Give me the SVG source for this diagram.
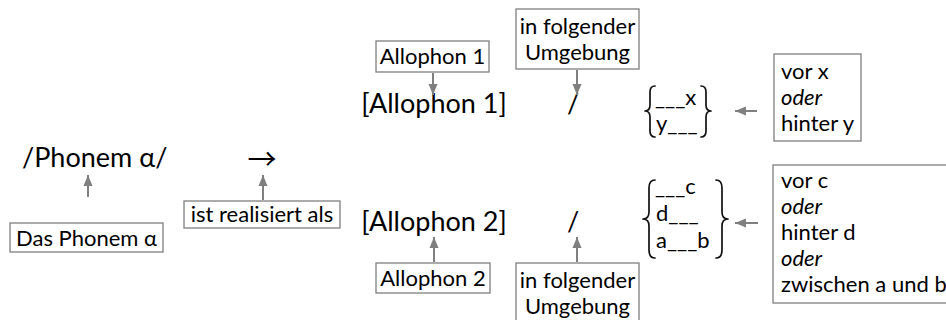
<svg xmlns="http://www.w3.org/2000/svg" width="946" height="320" viewBox="0 0 946 320">
  <defs>
    <marker id="head" markerUnits="userSpaceOnUse" markerWidth="12" markerHeight="12" viewBox="0 0 12 12" refX="11" refY="6" orient="auto">
      <path d="M0,1.5 L11,6 L0,10.5 Z" fill="#7f7f7f"/>
    </marker>
    <style>
      text { font-family: Lato, "Liberation Sans", sans-serif; fill: #000; }
      .big { font-size: 27px; }
      .lbl { font-size: 22px; }
      .mid { text-anchor: middle; }
      .it { font-style: italic; }
      .box { fill: #fff; stroke: #7f7f7f; stroke-width: 1.3; }
      .brace { fill: none; stroke: #111; stroke-width: 1.7; stroke-linecap: round; stroke-linejoin: round; }
      .conn line { stroke: #7f7f7f; stroke-width: 2; marker-end: url(#head); }
    </style>
  </defs>

  <rect width="946" height="320" fill="#fff"/>

  <!-- left part: phoneme and relation -->
  <g id="phonem">
    <text class="big" x="22" y="167">/Phonem α/</text>
  </g>
  <g id="pfeil">
    <text x="262" y="170" text-anchor="middle" style="font-family:'Noto Sans CJK SC', 'DejaVu Sans', sans-serif; font-size:29px">→</text>
  </g>
  <g id="label-phonem">
    <rect class="box" x="10" y="223" width="153" height="29"/>
    <text class="lbl" x="16" y="246">Das Phonem α</text>
  </g>
  <g id="label-realisiert">
    <rect class="box" x="184" y="201" width="156" height="27"/>
    <text class="lbl mid" x="262" y="222">ist realisiert als</text>
  </g>

  <!-- first allophone row -->
  <g id="allophon1">
    <text class="big mid" x="434" y="113">[Allophon 1]</text>
  </g>
  <g id="label-allophon1">
    <rect class="box" x="376" y="41" width="113" height="31"/>
    <text class="lbl mid" x="432.5" y="64">Allophon 1</text>
  </g>
  <g id="slash1">
    <text class="big mid" x="573" y="113">/</text>
  </g>
  <g id="label-umgebung1">
    <rect class="box" x="516" y="9" width="123" height="60"/>
    <text class="lbl mid"><tspan x="577.5" y="34">in folgender</tspan><tspan x="577.5" y="60">Umgebung</tspan></text>
  </g>
  <g id="umgebung1">
    <path class="brace" d="M655,86 Q650,86 650,92 L650,105 Q650,111 645,111 Q650,111 650,117 L650,131 Q650,137 655,137"/>
    <text class="lbl"><tspan x="655" y="105">___x</tspan><tspan x="656" y="131">y___</tspan></text>
    <path class="brace" d="M701,86 Q706,86 706,92 L706,105 Q706,111 711,111 Q706,111 706,117 L706,131 Q706,137 701,137"/>
  </g>
  <g id="label-umgebung1-text">
    <rect class="box" x="774" y="54" width="87" height="87"/>
    <text class="lbl"><tspan x="781" y="79">vor x</tspan><tspan class="it" x="781" y="105">oder</tspan><tspan x="781" y="131">hinter y</tspan></text>
  </g>

  <!-- second allophone row -->
  <g id="allophon2">
    <text class="big mid" x="434" y="231">[Allophon 2]</text>
  </g>
  <g id="label-allophon2">
    <rect class="box" x="376" y="263" width="114" height="30"/>
    <text class="lbl mid" x="433" y="286">Allophon 2</text>
  </g>
  <g id="slash2">
    <text class="big mid" x="573" y="231">/</text>
  </g>
  <g id="label-umgebung2">
    <rect class="box" x="516" y="263" width="123" height="60"/>
    <text class="lbl mid"><tspan x="577.5" y="288">in folgender</tspan><tspan x="577.5" y="314">Umgebung</tspan></text>
  </g>
  <g id="umgebung2">
    <path class="brace" d="M655,180 Q649,180 649,188 L649,212 Q649,219 643,219 Q649,219 649,226 L649,250 Q649,258 655,258"/>
    <text class="lbl"><tspan x="655" y="194">___c</tspan><tspan x="656" y="221">d___</tspan><tspan x="656" y="248">a___b</tspan></text>
    <path class="brace" d="M716,180 Q722,180 722,188 L722,212 Q722,219 728,219 Q722,219 722,226 L722,250 Q722,258 716,258"/>
  </g>
  <g id="label-umgebung2-text">
    <rect class="box" x="773" y="165" width="200" height="138"/>
    <text class="lbl"><tspan x="781" y="188">vor c</tspan><tspan class="it" x="781" y="214">oder</tspan><tspan x="781" y="240">hinter d</tspan><tspan class="it" x="781" y="266">oder</tspan><tspan x="781" y="292">zwischen a und b</tspan></text>
  </g>

  <!-- connectors: gray arrows from the labels to what they name -->
  <g id="connectors" class="conn">
    <line x1="88" y1="197" x2="88" y2="175"/>
    <line x1="263" y1="200" x2="263" y2="175"/>
    <line x1="433" y1="73" x2="433" y2="95"/>
    <line x1="577" y1="70" x2="577" y2="95"/>
    <line x1="434" y1="262" x2="434" y2="237"/>
    <line x1="577" y1="262" x2="577" y2="237"/>
    <line x1="757" y1="111" x2="735" y2="111"/>
    <line x1="758" y1="223" x2="735" y2="223"/>
  </g>
</svg>
